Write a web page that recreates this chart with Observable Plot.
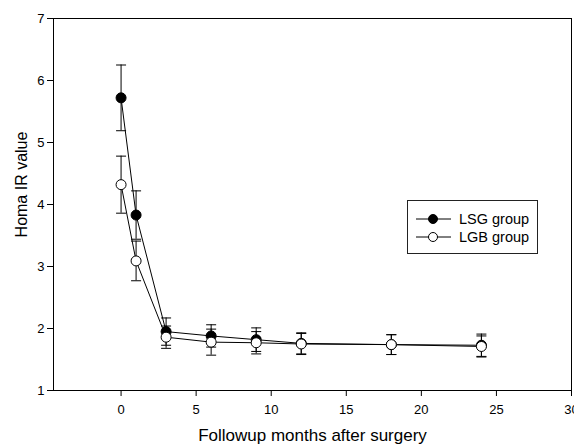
<!DOCTYPE html>
<html>
<head>
<meta charset="utf-8">
<script src="https://cdn.jsdelivr.net/npm/d3@7"></script>
<script src="https://cdn.jsdelivr.net/npm/@observablehq/plot@0.6"></script>
<style>
  html, body { margin: 0; padding: 0; background: #fff; }
  #wrap { position: relative; width: 574px; height: 446px; font-family: "Liberation Sans", Arial, sans-serif; }
  #legend { position: absolute; left: 407px; top: 200px; width: 131px; height: 54px; border: 1px solid #222; background: #fff; box-sizing: border-box; }
</style>
</head>
<body>
<div id="wrap"></div>
<script>
const months = [0, 1, 3, 6, 9, 12, 18, 24];
const lsgMean = [5.72, 3.83, 1.95, 1.88, 1.82, 1.76, 1.74, 1.73];
const lsgErr  = [0.53, 0.39, 0.22, 0.18, 0.19, 0.17, 0.16, 0.18];
const lgbMean = [4.32, 3.09, 1.86, 1.78, 1.77, 1.75, 1.74, 1.71];
const lgbErr  = [0.46, 0.32, 0.18, 0.21, 0.18, 0.17, 0.16, 0.17];
const groups = ["LSG group", "LGB group"];
const xTicks = [0, 5, 10, 15, 20, 25, 30];
const yTicks = [1, 2, 3, 4, 5, 6, 7];

const rows = [];
months.forEach((m, i) => {
  rows.push({group: groups[0], x: m, y: lsgMean[i], lo: lsgMean[i] - lsgErr[i], hi: lsgMean[i] + lsgErr[i]});
});
months.forEach((m, i) => {
  rows.push({group: groups[1], x: m, y: lgbMean[i], lo: lgbMean[i] - lgbErr[i], hi: lgbMean[i] + lgbErr[i]});
});
const lsg = rows.filter(d => d.group === groups[0]);
const lgb = rows.filter(d => d.group === groups[1]);

const capSymbol = {
  draw(ctx, size) {
    const r = Math.sqrt(size / Math.PI);
    ctx.moveTo(-r, 0);
    ctx.lineTo(r, 0);
  }
};

const font = '"Liberation Sans", Arial, sans-serif';

const chart = Plot.plot({
  width: 574,
  height: 446,
  marginLeft: 53,
  marginRight: 3,
  marginTop: 18,
  marginBottom: 56,
  style: {fontFamily: font, fontSize: "13px", color: "#000", background: "#fff", overflow: "visible"},
  x: {domain: [-4.5, 30]},
  y: {domain: [1, 7]},
  marks: [
    Plot.frame({stroke: "#000", strokeWidth: 1}),
    Plot.axisX({ticks: xTicks, tickFormat: d3.format("d"), tickSize: 6, tickPadding: 8, label: "Followup months after surgery", labelArrow: "none", labelAnchor: "center", labelOffset: 50, fontSize: 13}),
    Plot.axisY({ticks: yTicks, tickFormat: d3.format("d"), tickSize: 6, tickPadding: 3, label: "Homa IR value", labelArrow: "none", labelAnchor: "center", labelOffset: 38, fontSize: 13}),
    Plot.ruleX(rows, {x: "x", y1: "lo", y2: "hi", stroke: "#000", strokeWidth: 1}),
    Plot.dot(rows, {x: "x", y: "lo", symbol: capSymbol, r: 5, stroke: "#000", fill: "none", strokeWidth: 1}),
    Plot.dot(rows, {x: "x", y: "hi", symbol: capSymbol, r: 5, stroke: "#000", fill: "none", strokeWidth: 1}),
    Plot.line(lsg, {x: "x", y: "y", stroke: "#000", strokeWidth: 1}),
    Plot.line(lgb, {x: "x", y: "y", stroke: "#000", strokeWidth: 1}),
    Plot.dot(lsg, {x: "x", y: "y", r: 5, fill: "#000", stroke: "#000", strokeWidth: 1}),
    Plot.dot(lgb, {x: "x", y: "y", r: 5, fill: "#fff", stroke: "#000", strokeWidth: 1})
  ]
});

// axis title fonts and placement
chart.querySelectorAll('[aria-label="x-axis label"] text, [aria-label="x-axis label"]').forEach(el => el.setAttribute("font-size", "17"));
chart.querySelectorAll('[aria-label="y-axis label"] text, [aria-label="y-axis label"]').forEach(el => el.setAttribute("font-size", "16"));
chart.querySelectorAll('[aria-label="y-axis label"] text').forEach(el => el.setAttribute("dx", "20"));

const wrap = document.getElementById("wrap");
wrap.appendChild(chart);

// legend
const legend = document.createElement("div");
legend.id = "legend";
const ns = "http://www.w3.org/2000/svg";
const lsvg = document.createElementNS(ns, "svg");
lsvg.setAttribute("width", "129");
lsvg.setAttribute("height", "52");
groups.forEach((g, i) => {
  const cy = 18 + i * 18;
  const line = document.createElementNS(ns, "line");
  line.setAttribute("x1", 8); line.setAttribute("x2", 43);
  line.setAttribute("y1", cy); line.setAttribute("y2", cy);
  line.setAttribute("stroke", "#000");
  lsvg.appendChild(line);
  const c = document.createElementNS(ns, "circle");
  c.setAttribute("cx", 25); c.setAttribute("cy", cy); c.setAttribute("r", 4.5);
  c.setAttribute("fill", i === 0 ? "#000" : "#fff");
  c.setAttribute("stroke", "#000");
  lsvg.appendChild(c);
  const t = document.createElementNS(ns, "text");
  t.setAttribute("x", 51); t.setAttribute("y", cy);
  t.setAttribute("dy", "0.35em");
  t.setAttribute("font-size", "14.5");
  t.setAttribute("font-family", font);
  t.textContent = g;
  lsvg.appendChild(t);
});
legend.appendChild(lsvg);
wrap.appendChild(legend);
</script>
</body>
</html>
